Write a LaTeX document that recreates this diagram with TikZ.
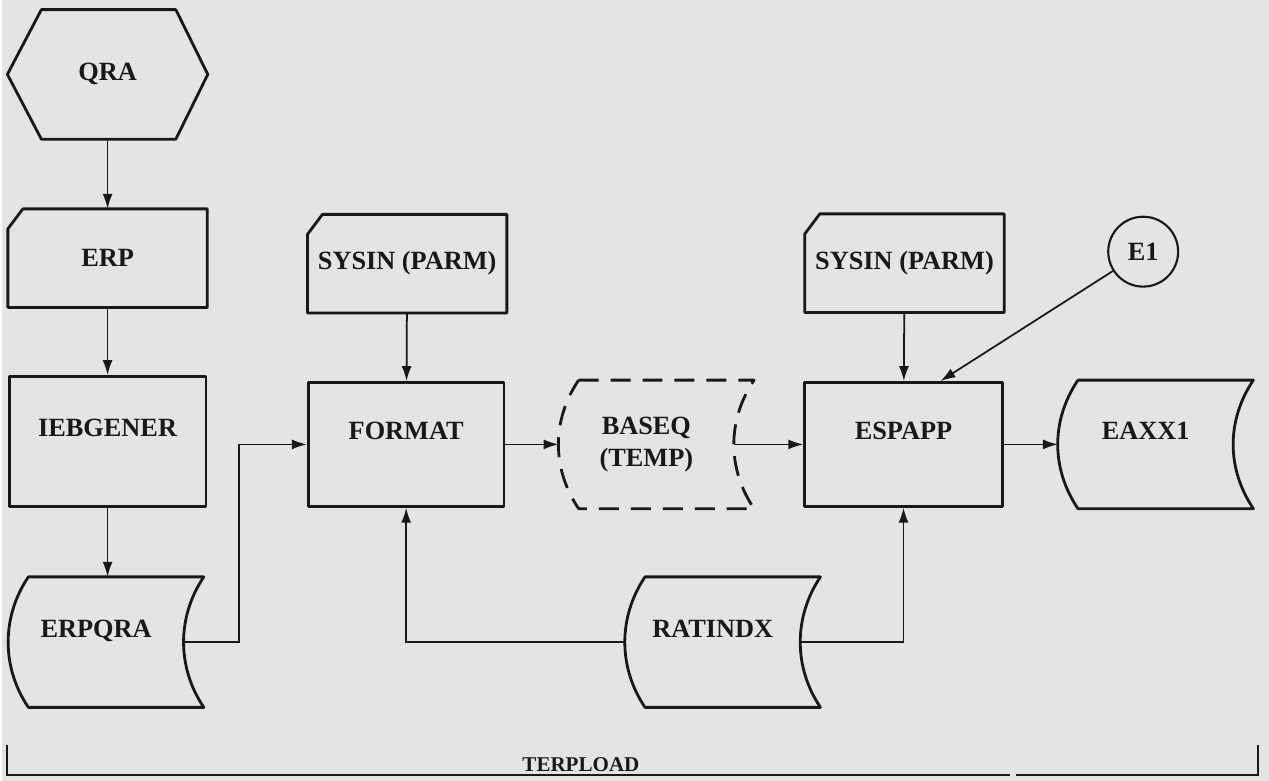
\documentclass[tikz,border=0pt]{standalone}
\usepackage{fontspec}
\setmainfont{Liberation Serif}
\usetikzlibrary{arrows.meta,calc}
\definecolor{paper}{RGB}{228,228,226}
\definecolor{ink}{RGB}{24,24,24}
\tikzset{
  boxline/.style={draw=ink, line width=1.6pt, line join=round},
  txt/.style={font=\bfseries\fontsize{15}{18}\selectfont, text=ink, align=center, inner sep=0pt},
  upper/.style={text depth=0.54cm},
  process/.style={txt, upper, rectangle, boxline, minimum width=3.96cm, minimum height=2.48cm},
  card/.style={txt, rectangle, minimum width=3.98cm, minimum height=1.96cm},
  stored/.style={txt, rectangle, minimum width=3.5cm, minimum height=2.56cm},
  terminal/.style={txt, rectangle, minimum width=4cm, minimum height=2.58cm},
  connector/.style={txt, circle, draw=ink, line width=1.2pt, minimum size=1.4cm},
  flow/.style={draw=ink, line width=1pt, -{Latex[length=3mm,width=2mm]}},
  templine/.style={dash pattern=on 0.4cm off 0.24cm}
}
% outlines drawn around the (invisible) node boxes
\newcommand{\cardoutline}[1]{%
  \draw[boxline] ($(#1.north west)+(0,20)$) -- ($(#1.north west)+(15,0)$)
    -- (#1.north east) -- (#1.south east) -- (#1.south west) -- cycle;}
\newcommand{\hexoutline}[1]{%
  \draw[boxline] ($(#1.north west)+(34,0)$) -- ($(#1.north east)+(-32,0)$)
    -- (#1.east) -- ($(#1.south east)+(-32,0)$) -- ($(#1.south west)+(34,0)$)
    -- (#1.west) -- cycle;}
\newcommand{\storedoutline}[2][]{%
  \draw[boxline,#1] ($(#2.north west)+(20,0)$) -- ($(#2.north east)+(20,0)$)
    .. controls ($(#2.north east)+(-7,40)$) and ($(#2.south east)+(-7,-40)$) .. ($(#2.south east)+(20,0)$)
    -- ($(#2.south west)+(20,0)$)
    .. controls ($(#2.south west)+(-7,-40)$) and ($(#2.north west)+(-7,40)$) .. cycle;}

\begin{document}
\begin{tikzpicture}[x=0.02cm,y=-0.02cm]
  \fill[paper] (0,0) rectangle (1269,782);

  % left column
  \node[terminal] (qra) at (106,74.5) {QRA};
  \node[card] (erp) at (106,258.5) {ERP};
  \node[process, minimum width=3.94cm, minimum height=2.6cm] (ieb) at (106,442) {IEBGENER};
  \node[stored, upper, minimum height=2.6cm] (erpqra) at (94.5,643) {ERPQRA};

  % middle
  \node[card] (sysina) at (406,264) {SYSIN (PARM)};
  \node[process, minimum width=3.92cm] (format) at (405,445) {FORMAT};
  \node[stored] (baseq) at (645.5,445) {BASEQ\\(TEMP)};
  \node[stored, upper, minimum height=2.6cm] (ratindx) at (712,643) {RATINDX};

  % right
  \node[card] (sysinb) at (904,263.5) {SYSIN (PARM)};
  \node[connector] (e1) at (1143,252) {E1};
  \node[process] (espapp) at (903,445) {ESPAPP};
  \node[stored, upper] (eaxx) at (1145.5,445) {EAXX1};

  \hexoutline{qra}
  \cardoutline{erp}
  \cardoutline{sysina}
  \cardoutline{sysinb}
  \storedoutline{erpqra}
  \storedoutline{ratindx}
  \storedoutline{eaxx}
  \storedoutline[templine]{baseq}

  \coordinate (espin) at ($(espapp.north)+(37,0)$);

  \draw[flow] (qra) -- (erp);
  \draw[flow] (erp) -- (ieb);
  \draw[flow] (ieb.south) -- (ieb.south |- erpqra.north);
  \draw[flow] (erpqra.east) -- ++(55,0) |- (format.west);
  \draw[flow] (sysina) -- (format);
  \draw[flow] (format) -- (baseq);
  \draw[flow] (baseq) -- (espapp);
  \draw[flow] (sysinb) -- (espapp);
  \draw[flow] (e1) -- (espin);
  \draw[flow] (espapp) -- (eaxx);
  \draw[flow] (ratindx.west) -| (format.south);
  \draw[flow] (ratindx.east) -| (espapp.south);

  % job bracket
  \coordinate (jobl) at (5,746);
  \coordinate (jobr) at (1258,746);
  \coordinate (gapl) at (1010,776);
  \coordinate (gapr) at (1016,776);
  \draw[draw=ink, line width=1.2pt] (jobl) |- (gapl);
  \draw[draw=ink, line width=1.2pt] (gapr) -| (jobr);
  \node[txt, font=\bfseries\fontsize{12}{14}\selectfont, anchor=south, inner sep=1pt] (job) at (580,775) {TERPLOAD};
\end{tikzpicture}
\end{document}
